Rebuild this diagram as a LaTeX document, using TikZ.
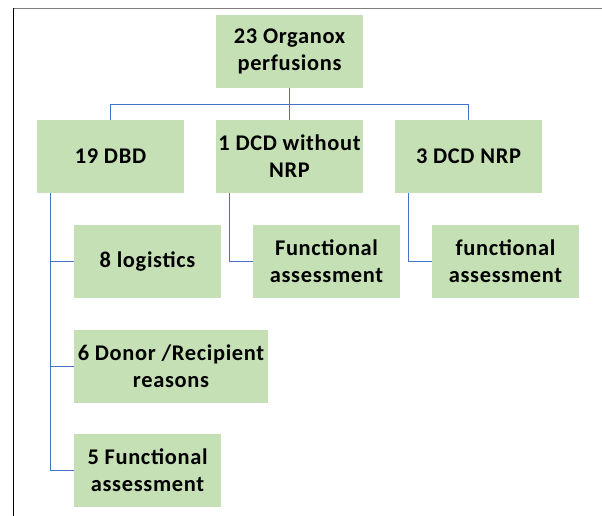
\documentclass[tikz,border=0pt]{standalone}
\usepackage{fontspec}
\setmainfont{Carlito}[LetterSpace=3]
\usepackage{tikz}
\usetikzlibrary{calc, positioning}
\definecolor{boxgreen}{HTML}{C5E0B4}
\definecolor{linkblue}{HTML}{4472C4}
\definecolor{framegray}{HTML}{7F7F7F}

\begin{document}
\begin{tikzpicture}[
    x=1bp, y=-1bp,
    box/.style={fill=boxgreen, minimum width=#1, minimum height=73bp, inner sep=2bp, align=center,
        font=\fontsize{22.5}{27}\selectfont\bfseries},
    box/.default=147bp,
    link/.style={draw=linkblue, line width=1bp},
]
\useasboundingbox (0,0) rectangle (602,516);
\draw[framegray, line width=1.5bp] (13,8.5) -- (602,8.5);
\draw[black, line width=1bp] (13.5,8) -- (13.5,516);

\node[box] (root) at (289.5, 51.5) {23 Organox\\perfusions};
\node[box] (dbd) at (110.5, 156.5) {19 DBD};
\node[box] (dcd) at (289.5, 156.5) {1 DCD without\\NRP};
\node[box] (nrp) at (468.5, 156.5) {3 DCD NRP};
\node[box] (logi) at (147.5, 261.5) {8 logistics};
\node[box=194bp] (donor) at (171, 366) {6 Donor /Recipient\\reasons};
\node[box] (func) at (147.5, 470.5) {5 Functional\\assessment};
\node[box] (fa1) at (326.5, 261.5) {Functional\\assessment};
\node[box] (fa2) at (505.5, 261.5) {functional\\assessment};

% top level
\draw[link] (root.south) -- ++(0,16) -| (dbd.north);
\draw[link] (root.south) -- ++(0,16) -| (nrp.north);
\draw[link] (root.south) -- (dcd.north);
% branches
\coordinate (dbdt) at ($(dbd.south west)+(14,0)$);
\coordinate (dcdt) at ($(dcd.south west)+(14,0)$);
\coordinate (nrpt) at ($(nrp.south west)+(14,0)$);
\draw[link] (dbdt) |- (logi.west);
\draw[link] (dbdt) |- (donor.west);
\draw[link] (dbdt) |- (func.west);
\draw[link] (dcdt) |- (fa1.west);
\draw[link] (nrpt) |- (fa2.west);
\end{tikzpicture}
\end{document}
